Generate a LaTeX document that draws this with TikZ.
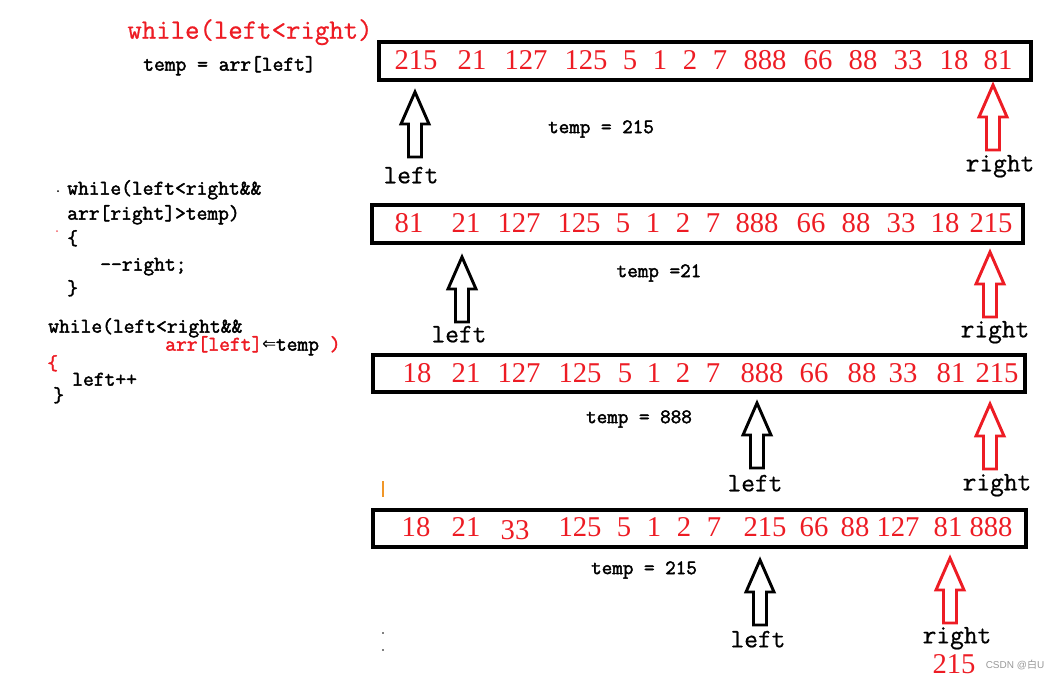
\documentclass[tikz,border=0pt]{standalone}
\usepackage{fontspec}
\setmainfont{Liberation Serif}
\newfontfamily\codefont[FakeBold=2]{Latin Modern Mono}
\newfontfamily\plaincode[FakeBold=0.7]{Latin Modern Mono}
\newfontfamily\symfont{DejaVu Sans Mono}
\newfontfamily\labelsans{Liberation Sans}
\newfontfamily\cjkfont{Noto Sans CJK SC}
\definecolor{arrred}{RGB}{237,28,36}
\definecolor{markorange}{RGB}{240,150,40}
\tikzset{
  num/.style={text=arrred, font=\fontsize{21.5}{24}\selectfont, inner sep=0pt},
  code/.style={font=\codefont\fontsize{15.7}{18}\selectfont, inner sep=0pt,
               anchor=west, text height=10pt, text depth=3pt},
  tempnote/.style={font=\codefont\fontsize{15.4}{18}\selectfont, inner sep=0pt},
  ptrlabel/.style={font=\plaincode\fontsize{20}{22}\selectfont, inner sep=0pt,
                   text height=12pt, text depth=4pt},
  arrbox/.style={draw=black, line width=3pt},
  uparr/.pic={\draw[pic actions, line width=2.2pt, line join=miter, fill=white]
      (0,0) -- (14,32) -- (6.5,32) -- (6.5,65) -- (-6.5,65) -- (-6.5,32) -- (-14,32) -- cycle;}
}
\begin{document}
\begin{tikzpicture}[x=0.75pt,y=-0.75pt]
\useasboundingbox (0,0) rectangle (1057,679);

% ---- code on the left ----
\node[inner sep=0pt, text=arrred, font=\plaincode\fontsize{21}{24}\selectfont,
      text height=14pt, text depth=4pt]
  (loop) at (250,32) {while(left<right)};
\node[code] (init) at (143,66) {temp = arr[left]};

\node[code] (c1) at (67,190) {while(left<right\&\&};
\node[code] (c2) at (67,215) {arr[right]>temp)};
\node[code] (c3) at (67,240) {\{};
\node[code] (c4) at (100,266) {-{}-right;};
\node[code] (c5) at (67,290) {\}};

\node[code] (d1) at (48,328) {while(left<right\&\&};
\node[code] (d2) at (165,346) {\textcolor{arrred}{arr[left]}{\symfont\fontsize{17}{18}\selectfont ⇐}temp \textcolor{arrred}{)}};
\node[code, text=arrred] (d3) at (47,365) {\{};
\node[code] (d4) at (72,381) {left++};
\node[code] (d5) at (53,397) {\}};

\fill (58,191) circle (1);
\fill[arrred!70] (57,231) circle (1);

% ---- the four states of the array ----
\draw[arrbox] (379,42) rectangle (1031,80);
\foreach \v/\x [count=\i] in {215/416,21/472,127/526,125/586,5/630,1/660,2/690,7/720,888/765,66/818,88/863,33/908,18/954,81/998}
  \node[num] (a\i) at (\x,60) {\v};

\draw[arrbox] (372,205) rectangle (1023,243);
\foreach \v/\x [count=\i] in {81/409,21/466,127/519,125/579,5/623,1/653,2/683,7/713,888/757,66/811,88/856,33/901,18/945,215/991}
  \node[num] (b\i) at (\x,223) {\v};

\draw[arrbox] (373,355) rectangle (1025,392);
\foreach \v/\x [count=\i] in {18/417,21/466,127/519,125/580,5/625,1/654,2/683,7/713,888/762,66/814,88/862,33/903,81/951,215/997}
  \node[num] (c\i) at (\x,373) {\v};

\draw[arrbox] (373,510) rectangle (1026,547);
\foreach \v/\x/\y [count=\i] in {18/416/527,21/466/527,33/515/530,125/580/527,5/624/527,1/654/527,2/684/527,7/714/527,215/765/527,66/814/527,88/855/527,127/898/527,81/948/527,888/991/527}
  \node[num] (e\i) at (\x,\y) {\v};

% ---- temp values ----
\node[tempnote] (t1) at (601,129) {temp = 215};
\node[tempnote] (t2) at (659,273) {temp =21};
\node[tempnote] (t3) at (639,419) {temp = 888};
\node[tempnote] (t4) at (644,570) {temp = 215};

% ---- left / right pointers ----
\pic[draw=black] at (415,92) {uparr};
\node[ptrlabel] (l1) at (411,178) {left};
\pic[draw=arrred] at (993,85) {uparr};
\node[ptrlabel] (r1) at (1000,166) {right};

\pic[draw=black] at (462,257) {uparr};
\begin{scope}
  \clip (400,300) rectangle (520,343);
  \node[ptrlabel] (l2) at (459,337) {left};
\end{scope}
\pic[draw=arrred] at (990,252) {uparr};
\node[ptrlabel] (r2) at (995,332) {right};

\pic[draw=black] at (757,403) {uparr};
\node[ptrlabel] (l3) at (755,486) {left};
\pic[draw=arrred] at (990,404) {uparr};
\node[ptrlabel] (r3) at (997,485) {right};

\pic[draw=black] at (760,560) {uparr};
\node[ptrlabel] (l4) at (758,642) {left};
\pic[draw=arrred] at (950,558) {uparr};
\node[ptrlabel] (r4) at (957,638) {right};
\node[num] (pivot) at (954,664) {215};

% ---- small marks ----
\draw[markorange, line width=1.2] (383,481) -- (383,497);
\fill (383,633) circle (0.8);
\fill (383,650) circle (0.8);

\node[inner sep=0pt, text=gray!80, font=\labelsans\fontsize{7.5}{9}\selectfont]
  (mark) at (1015,665) {CSDN @{\cjkfont 白}U};
\end{tikzpicture}
\end{document}
